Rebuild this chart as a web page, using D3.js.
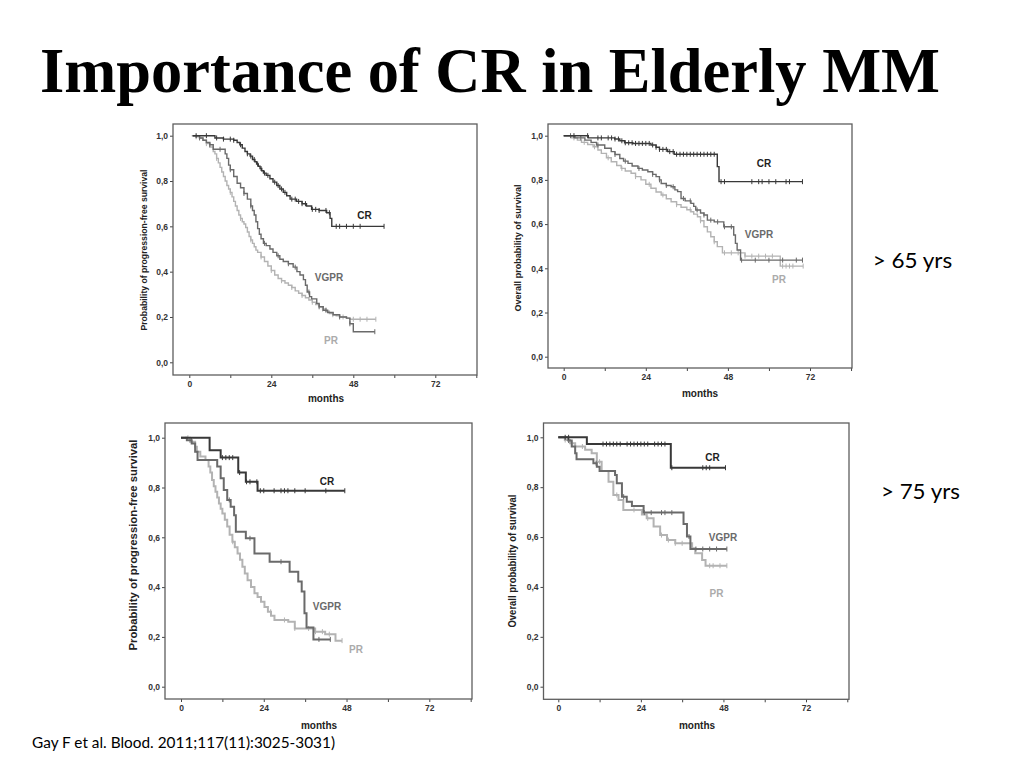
<!DOCTYPE html>
<html><head><meta charset="utf-8">
<script src="https://cdn.jsdelivr.net/npm/d3@7/dist/d3.min.js"></script>
<style>body{margin:0;background:#fff}svg{display:block}</style>
</head><body>
<svg id="c" width="1024" height="768"></svg>
<script>
// ---------------- DATA ----------------
const groups = ["CR", "VGPR", "PR"];
const monthTicks = [0, 12, 24, 36, 48, 60, 72, 84];
const monthLabels = [0, 24, 48, 72];
const probTicks = [0, 0.2, 0.4, 0.6, 0.8, 1.0];

// Kaplan-Meier steps: [month, survival after the step]
const pfs65CR = [[1,1],[7.5,0.99],[10,0.985],[13,0.98],[14,0.97],[14.8,0.96],[15.5,0.945],[16.3,0.93],[17,0.92],[17.8,0.91],[18.5,0.895],[19.2,0.885],[19.7,0.875],[20.2,0.865],[20.7,0.855],[21.2,0.845],[21.7,0.835],[22.5,0.825],[23.6,0.81],[24.5,0.795],[25.6,0.78],[26.5,0.765],[27.5,0.75],[28.5,0.735],[29.5,0.72],[31.4,0.71],[33,0.70],[34.3,0.69],[35.8,0.675],[38,0.67],[40.2,0.66],[41.2,0.635],[41.7,0.60]];
const pfs65VGPR = [[1,1],[3,0.99],[4,0.98],[5,0.97],[6,0.96],[7,0.94],[10.5,0.92],[11,0.90],[11.5,0.87],[12,0.85],[13,0.82],[14,0.79],[15,0.77],[16,0.745],[17,0.72],[18,0.69],[18.5,0.67],[19,0.65],[19.5,0.62],[20,0.59],[20.5,0.565],[21,0.545],[21.7,0.525],[22.5,0.515],[23.6,0.50],[24.5,0.485],[25.6,0.47],[26.5,0.455],[27.5,0.445],[29,0.435],[30.4,0.42],[31.5,0.40],[32.4,0.385],[33.4,0.365],[34,0.34],[34.5,0.31],[35.2,0.29],[35.8,0.28],[37.3,0.26],[38,0.245],[39.2,0.23],[40.5,0.22],[42.1,0.21],[44,0.20],[46,0.195],[47,0.17],[48,0.135]];
const pfs65PR = [[0.7,1],[2,0.995],[3,0.99],[4,0.98],[5,0.965],[6,0.95],[7,0.93],[7.5,0.92],[8,0.90],[8.5,0.88],[9,0.86],[9.5,0.84],[10,0.82],[10.5,0.80],[11,0.78],[11.5,0.765],[12,0.75],[12.5,0.73],[13,0.71],[13.5,0.69],[14,0.67],[14.5,0.65],[15,0.635],[15.5,0.62],[16,0.61],[16.5,0.595],[17,0.575],[17.5,0.555],[18,0.54],[18.5,0.525],[19,0.51],[19.5,0.495],[20,0.485],[21,0.465],[22,0.445],[23,0.425],[24,0.405],[25,0.385],[26,0.37],[27,0.36],[28,0.35],[29,0.34],[30,0.33],[31,0.315],[32,0.305],[33,0.295],[34,0.285],[35,0.275],[36,0.265],[37,0.255],[38,0.245],[39,0.235],[40,0.225],[41,0.215],[42,0.21],[43,0.205],[44,0.20],[46,0.195],[47,0.19]];

const os65CR = [[0,1],[7.2,0.99],[14.9,0.985],[16.4,0.977],[17.8,0.968],[20.2,0.965],[25.5,0.958],[27,0.948],[28,0.938],[30.4,0.928],[32.3,0.916],[44.9,0.86],[45.4,0.792]];
const os65VGPR = [[0,1],[3.3,0.99],[6.2,0.98],[8,0.97],[9.6,0.958],[12,0.943],[13.9,0.928],[15,0.915],[16.4,0.897],[17.5,0.885],[18.8,0.875],[20,0.863],[21.7,0.852],[23,0.845],[24.6,0.837],[26,0.825],[27,0.815],[28,0.80],[28.5,0.784],[30,0.775],[31.4,0.769],[32.5,0.755],[33.3,0.747],[34.3,0.716],[35.5,0.705],[37.2,0.694],[38,0.68],[38.6,0.664],[40,0.65],[41,0.641],[42,0.618],[44,0.61],[46.8,0.588],[49.7,0.551],[50.2,0.513],[50.7,0.483],[51.7,0.437]];
const os65PR = [[0,1],[2.3,0.99],[4,0.98],[5.2,0.97],[7,0.96],[8.6,0.95],[10,0.935],[11,0.92],[12.5,0.90],[13.9,0.882],[15.5,0.865],[16.8,0.852],[18,0.84],[19.7,0.83],[21,0.815],[22.6,0.80],[24,0.78],[25.5,0.762],[27,0.745],[28.5,0.732],[30,0.715],[31.4,0.701],[33,0.688],[34.3,0.676],[36,0.665],[37.2,0.656],[38,0.645],[39.1,0.633],[40,0.615],[41,0.588],[42,0.565],[43,0.543],[44,0.52],[44.9,0.498],[46.4,0.47],[53,0.455],[63.3,0.41]];

const pfs75CR = [[0,1],[8.3,0.95],[11.5,0.92],[16.6,0.86],[18.8,0.823],[22.2,0.787]];
const pfs75VGPR = [[0,1],[1.7,0.99],[3.1,0.977],[4.1,0.944],[4.8,0.91],[10.5,0.884],[11.5,0.837],[12.4,0.79],[13.4,0.75],[14.4,0.723],[15.4,0.689],[15.9,0.622],[18.8,0.596],[21.3,0.535],[25.7,0.502],[31.5,0.462],[34,0.422],[35,0.382],[35.8,0.295],[36.4,0.238],[38.4,0.19]];
const pfs75PR = [[1.2,1],[2.6,0.984],[4.1,0.964],[4.6,0.944],[5.6,0.924],[7.1,0.91],[8,0.884],[8.5,0.86],[9,0.83],[9.5,0.805],[10,0.783],[10.5,0.76],[11,0.736],[11.5,0.715],[12,0.696],[12.7,0.67],[13.4,0.643],[14.1,0.61],[14.9,0.582],[15.6,0.56],[16.4,0.535],[17.1,0.51],[17.8,0.482],[18.5,0.455],[19.3,0.428],[20.3,0.40],[21.3,0.375],[22.2,0.36],[23.2,0.341],[24.2,0.32],[25.2,0.301],[26.1,0.285],[27.1,0.268],[31.1,0.261],[33,0.234],[38.9,0.221],[41.8,0.211],[44.8,0.185]];

const os75CR = [[0,1],[8.3,0.973],[32.7,0.878]];
const os75VGPR = [[0,1],[2.9,0.987],[3.9,0.963],[4.9,0.936],[5.3,0.912],[10.2,0.896],[11.2,0.882],[12,0.865],[16.5,0.849],[17,0.816],[18.5,0.762],[19.9,0.742],[21.4,0.725],[24.8,0.698],[36.4,0.652],[37.4,0.602],[38.4,0.552]];
const os75PR = [[0,1],[1.9,0.989],[3.4,0.976],[4.9,0.963],[7.8,0.95],[9.7,0.936],[11.2,0.902],[12.6,0.865],[14.6,0.822],[16,0.769],[17.5,0.749],[18.9,0.709],[24.3,0.69],[25.7,0.675],[27.7,0.642],[29.6,0.608],[31.6,0.588],[34,0.575],[38.9,0.555],[39.8,0.535],[41.8,0.508],[42.8,0.485]];

// Censoring times (months); the last one ends each curve
const pfs65CRcens = [2,5,8,10,12,13,15,17,18,19,20,21,22,23,25,26,27,28,30,31,32,33,34,36,37,38,40,41,43,44,46,48,50,57];
const pfs65VGPRcens = [3,6,9,12,16,18,22,26,29,31,35,38,40,44,47,54.3];
const pfs65PRcens = [2,5,8,12,15,18,21,24,27,30,33,36,39,42,45,48,50,52,54.6];
const os65CRcens = [3,7,10,11,13,14,15,16,17,18,19,20,21,22,23,24,25,26,27,28,29,30,31,32,33,34,35,36,37,38,39,40,41,42,43,44,46,47,55,57,58,60,62,65,66,69.8];
const os65VGPRcens = [2,5,10,15,18,22,26,28,30,32,35,37,39,41,43,45,47,49,52,56,60,64,68,69.8];
const os65PRcens = [3,6,9,13,17,21,25,29,33,37,40,44,47,49,51,53,55,57,59,61,64,65,66,67,70];
const pfs75CRcens = [12,13,14,15,17,19,20,22,23,24,27,29,30,31,33,36,42,47.5];
const pfs75VGPRcens = [3,14,20,29,40,43.3];
const pfs75PRcens = [2,15,26,30,33,37,39,41,43,46.7];
const os75CRcens = [2,3,13,14,15,16,17,18,20,21,22,23,24,25,26,28,29,30,31,33,42,43,44,48.6];
const os75VGPRcens = [3,11,19,25,27,30,31,33,38,40,42,44,46,49];
const os75PRcens = [2,4,7,12,17,22,26,30,32,34,36,44,45,47,49];

const titleText = "Importance of CR in Elderly MM";
const ageLabels = ["> 65 yrs", "> 75 yrs"];
const yTitles = ["Probability of progression-free survival", "Overall probability of survival"];
const xTitle = "months";
const footnote = "Gay F et al. Blood. 2011;117(11):3025-3031)";

// ---------------- LAYOUT ----------------
const colors = {CR: "#383838", VGPR: "#6a6a6a", PR: "#b3b3b3"};
const labelColors = {CR: "#1e1e1e", VGPR: "#6a6a6a", PR: "#ababab"};

const panels = [
  {curves: {CR: pfs65CR, VGPR: pfs65VGPR, PR: pfs65PR}, cens: {CR: pfs65CRcens, VGPR: pfs65VGPRcens, PR: pfs65PRcens},
   frame: [173, 124, 477, 375], x0: 189.3, x72: 435.3, y1: 135.7, y0: 362.3, ytitle: 0,
   yt: {x: 143, y: 250, len: 161, fs: 9.5}, xt: {x: 326, y: 402}, lw: 1.4, tfs: 8.5,
   labels: {CR: [364.5, 219], VGPR: [329, 281], PR: [331, 344]}},
  {curves: {CR: os65CR, VGPR: os65VGPR, PR: os65PR}, cens: {CR: os65CRcens, VGPR: os65VGPRcens, PR: os65PRcens},
   frame: [548, 124, 852, 368], x0: 563.7, x72: 810, y1: 135.7, y0: 356.7, ytitle: 1,
   yt: {x: 517, y: 248, len: 127, fs: 9.5}, xt: {x: 700, y: 397}, lw: 1.4, tfs: 8.5,
   labels: {CR: [764, 167], VGPR: [759, 238], PR: [779, 283]}},
  {curves: {CR: pfs75CR, VGPR: pfs75VGPR, PR: pfs75PR}, cens: {CR: pfs75CRcens, VGPR: pfs75VGPRcens, PR: pfs75PRcens},
   frame: [165, 423, 472, 699], x0: 181, x72: 429.3, y1: 437.7, y0: 686.7, ytitle: 0,
   yt: {x: 133, y: 545, len: 211, fs: 10.5}, xt: {x: 319, y: 729}, lw: 2, tfs: 8.5,
   labels: {CR: [327, 485], VGPR: [327, 610], PR: [356, 653]}},
  {curves: {CR: os75CR, VGPR: os75VGPR, PR: os75PR}, cens: {CR: os75CRcens, VGPR: os75VGPRcens, PR: os75PRcens},
   frame: [543.5, 423, 849, 699.3], x0: 558.3, x72: 806, y1: 437.3, y0: 686.7, ytitle: 1,
   yt: {x: 512, y: 561, len: 133, fs: 10.5}, xt: {x: 697, y: 729}, lw: 2, tfs: 8.5,
   labels: {CR: [712.5, 461], VGPR: [723, 541], PR: [716.5, 597]}}
];

const svg = d3.select("#c");
svg.append("rect").attr("width", 1024).attr("height", 768).attr("fill", "#fff");

// Title
svg.append("text").attr("x", 40).attr("y", 92)
  .attr("font-family", "'Liberation Serif','Times New Roman',serif").attr("font-weight", "bold")
  .attr("font-size", 63).attr("textLength", 900).attr("lengthAdjust", "spacingAndGlyphs")
  .attr("fill", "#000").text(titleText);

const sans = "'Liberation Sans',Arial,sans-serif";
const fmt = d => d3.format(".1f")(d).replace(".", ",");

function survAt(steps, t) {
  let s = steps[0][1];
  for (const [m, v] of steps) { if (m <= t) s = v; else break; }
  return s;
}

panels.forEach(p => {
  const g = svg.append("g");
  const [fl, ft, fr, fb] = p.frame;
  const x = d3.scaleLinear().domain([0, 72]).range([p.x0, p.x72]);
  const y = d3.scaleLinear().domain([0, 1]).range([p.y0, p.y1]);

  const xa = g.append("g").attr("transform", `translate(0,${fb})`)
    .call(d3.axisBottom(x).tickValues(monthTicks).tickSize(3).tickPadding(3)
      .tickFormat(d => monthLabels.includes(d) ? d : ""));
  xa.select(".domain").remove();
  xa.selectAll("line").attr("stroke", "#444").attr("stroke-width", 1);
  xa.selectAll("text").attr("font-family", sans).attr("font-weight", "bold")
    .attr("font-size", p.tfs).attr("fill", "#333");

  const ya = g.append("g").attr("transform", `translate(${fl},0)`)
    .call(d3.axisLeft(y).tickValues(probTicks).tickSize(3).tickPadding(2).tickFormat(fmt));
  ya.select(".domain").remove();
  ya.selectAll("line").attr("stroke", "#444").attr("stroke-width", 1);
  ya.selectAll("text").attr("font-family", sans).attr("font-weight", "bold")
    .attr("font-size", p.tfs).attr("fill", "#333");

  g.append("rect").attr("x", fl).attr("y", ft).attr("width", fr - fl).attr("height", fb - ft)
    .attr("fill", "none").attr("stroke", "#5e5e5e").attr("stroke-width", 1.3);

  g.append("text").attr("transform", `translate(${p.yt.x},${p.yt.y}) rotate(-90)`)
    .attr("text-anchor", "middle").attr("dominant-baseline", "central")
    .attr("font-family", sans).attr("font-weight", "bold").attr("font-size", p.yt.fs)
    .attr("textLength", p.yt.len).attr("lengthAdjust", "spacingAndGlyphs")
    .attr("fill", "#222").text(yTitles[p.ytitle]);
  g.append("text").attr("x", p.xt.x).attr("y", p.xt.y).attr("text-anchor", "middle")
    .attr("font-family", sans).attr("font-weight", "bold").attr("font-size", 10)
    .attr("fill", "#222").text(xTitle);

  const line = d3.line().x(d => x(d[0])).y(d => y(d[1])).curve(d3.curveStepAfter);
  ["PR", "VGPR", "CR"].forEach(k => {
    const steps = p.curves[k];
    const cens = p.cens[k];
    const end = d3.max(cens);
    const pts = steps.concat([[end, steps[steps.length - 1][1]]]);
    g.append("path").datum(pts).attr("d", line).attr("fill", "none")
      .attr("stroke", colors[k]).attr("stroke-width", p.lw);
    g.selectAll(null).data(cens).enter().append("line")
      .attr("x1", d => x(d)).attr("x2", d => x(d))
      .attr("y1", d => y(survAt(steps, d)) - 2.5).attr("y2", d => y(survAt(steps, d)) + 2.5)
      .attr("stroke", colors[k]).attr("stroke-width", 1);
  });

  groups.forEach(k => {
    g.append("text").attr("x", p.labels[k][0]).attr("y", p.labels[k][1]).attr("text-anchor", "middle")
      .attr("font-family", sans).attr("font-weight", "bold").attr("font-size", 10)
      .attr("fill", labelColors[k]).text(k);
  });
});

const lato = "Lato,'Open Sans',sans-serif";
svg.append("text").attr("x", 872.7).attr("y", 268).attr("font-family", lato).attr("font-size", 21)
  .attr("textLength", 79.5).attr("lengthAdjust", "spacingAndGlyphs").attr("fill", "#000").text(ageLabels[0]);
svg.append("text").attr("x", 881).attr("y", 498.5).attr("font-family", lato).attr("font-size", 21)
  .attr("textLength", 79).attr("lengthAdjust", "spacingAndGlyphs").attr("fill", "#000").text(ageLabels[1]);

svg.append("text").attr("x", 32).attr("y", 747.5).attr("font-family", lato).attr("font-size", 16)
  .attr("textLength", 303).attr("lengthAdjust", "spacingAndGlyphs").attr("fill", "#000").text(footnote);
</script>
</body></html>
